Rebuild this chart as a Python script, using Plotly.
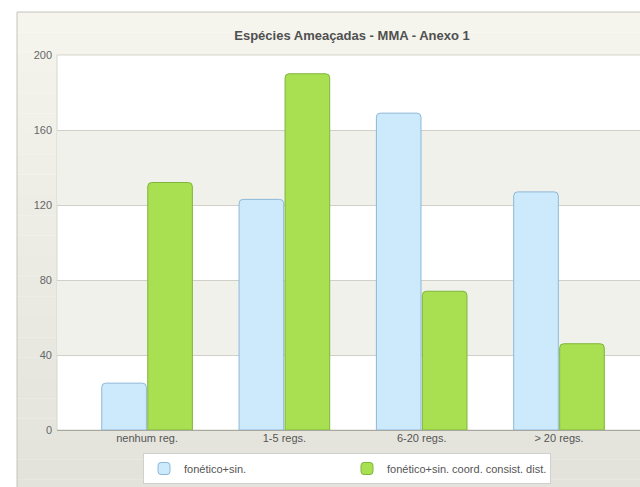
import plotly.graph_objects as go

categories = ["nenhum reg.", "1-5 regs.", "6-20 regs.", "> 20 regs."]
fonetico = [25, 123, 169, 127]
fonetico_coord = [132, 190, 74, 46]
y_ticks = [0, 40, 80, 120, 160, 200]

W, H = 640, 487
ML, MT = 57, 55
PLOT_BOTTOM = 430
MB = H - PLOT_BOTTOM
PW = W - ML
PH = H - MT - MB


def px_x(p):
    return (p - ML) / PW


def px_y(p):
    return (PLOT_BOTTOM - p) / PH


fig = go.Figure()

fig.add_trace(go.Bar(
    x=categories, y=fonetico, name="fonético+sin.",
    marker=dict(color="#cdeafc", line=dict(color="#8cb8d8", width=1)),
))
fig.add_trace(go.Bar(
    x=categories, y=fonetico_coord, name="fonético+sin. coord. consist. dist.",
    marker=dict(color="#a8e052", line=dict(color="#7fb53a", width=1)),
))

shapes = []
# outer chart box with a soft vertical gradient
n = 24
top, bottom = 12, 500
for i in range(n):
    t = i / (n - 1)
    c = (int(245 - 18 * t), int(245 - 18 * t), int(238 - 18 * t))
    y0 = top + (bottom - top) * i / n
    y1 = top + (bottom - top) * (i + 1) / n
    shapes.append(dict(type="rect", xref="paper", yref="paper", layer="below",
                       x0=px_x(17), x1=px_x(700), y0=px_y(y1), y1=px_y(y0),
                       fillcolor="rgb(%d,%d,%d)" % c, line=dict(width=0)))
shapes.append(dict(type="rect", xref="paper", yref="paper", layer="below",
                   x0=px_x(17), x1=px_x(700), y0=px_y(bottom), y1=px_y(top),
                   fillcolor="rgba(0,0,0,0)", line=dict(color="#c4c4bc", width=1)))
# plot area
shapes.append(dict(type="rect", xref="paper", yref="paper", layer="below",
                   x0=0, x1=1.05, y0=0, y1=1,
                   fillcolor="white", line=dict(color="#d6d6d0", width=1)))
# alternating bands
for lo, hi in [(120, 160), (40, 80)]:
    shapes.append(dict(type="rect", xref="paper", yref="y", layer="below",
                       x0=0, x1=1.05, y0=lo, y1=hi,
                       fillcolor="#f1f1eb", line=dict(width=0)))

fig.update_layout(
    width=W, height=H,
    margin=dict(l=ML, r=0, t=MT, b=MB),
    paper_bgcolor="white",
    plot_bgcolor="rgba(0,0,0,0)",
    barmode="group",
    bargap=0.33,
    bargroupgap=0.03,
    barcornerradius=4,
    font=dict(family="Liberation Sans, Arial, sans-serif", size=11, color="#555555"),
    title=dict(text="<b>Espécies Ameaçadas - MMA - Anexo 1</b>",
               x=352 / W, xanchor="center",
               y=1 - 35 / H, yanchor="middle",
               font=dict(size=13, color="#505050")),
    shapes=shapes,
    showlegend=True,
    legend=dict(orientation="h", x=px_x(347), xanchor="center",
                y=px_y(453), yanchor="top",
                bgcolor="white", bordercolor="#d0d0d0", borderwidth=1,
                entrywidth=158, font=dict(size=11, color="#555555"),
                tracegroupgap=0),
)

fig.update_xaxes(range=[-0.656, 3.59], showgrid=False, showline=False,
                 zeroline=False, ticks="", tickfont=dict(size=11, color="#555555"))
fig.update_yaxes(range=[0, 200], tickvals=y_ticks, showgrid=True,
                 gridcolor="#d0d0c8", gridwidth=1, zeroline=True,
                 zerolinecolor="#a8a8a0", zerolinewidth=1,
                 showline=False, ticks="", ticklabelstandoff=4,
                 tickfont=dict(size=11, color="#666666"))

# drop the default page margin so the figure sits flush in the window
fig.write_html("out.html", config={"displayModeBar": False},
               post_script="document.body.style.margin='0';"
                           "document.body.style.overflow='hidden';")
